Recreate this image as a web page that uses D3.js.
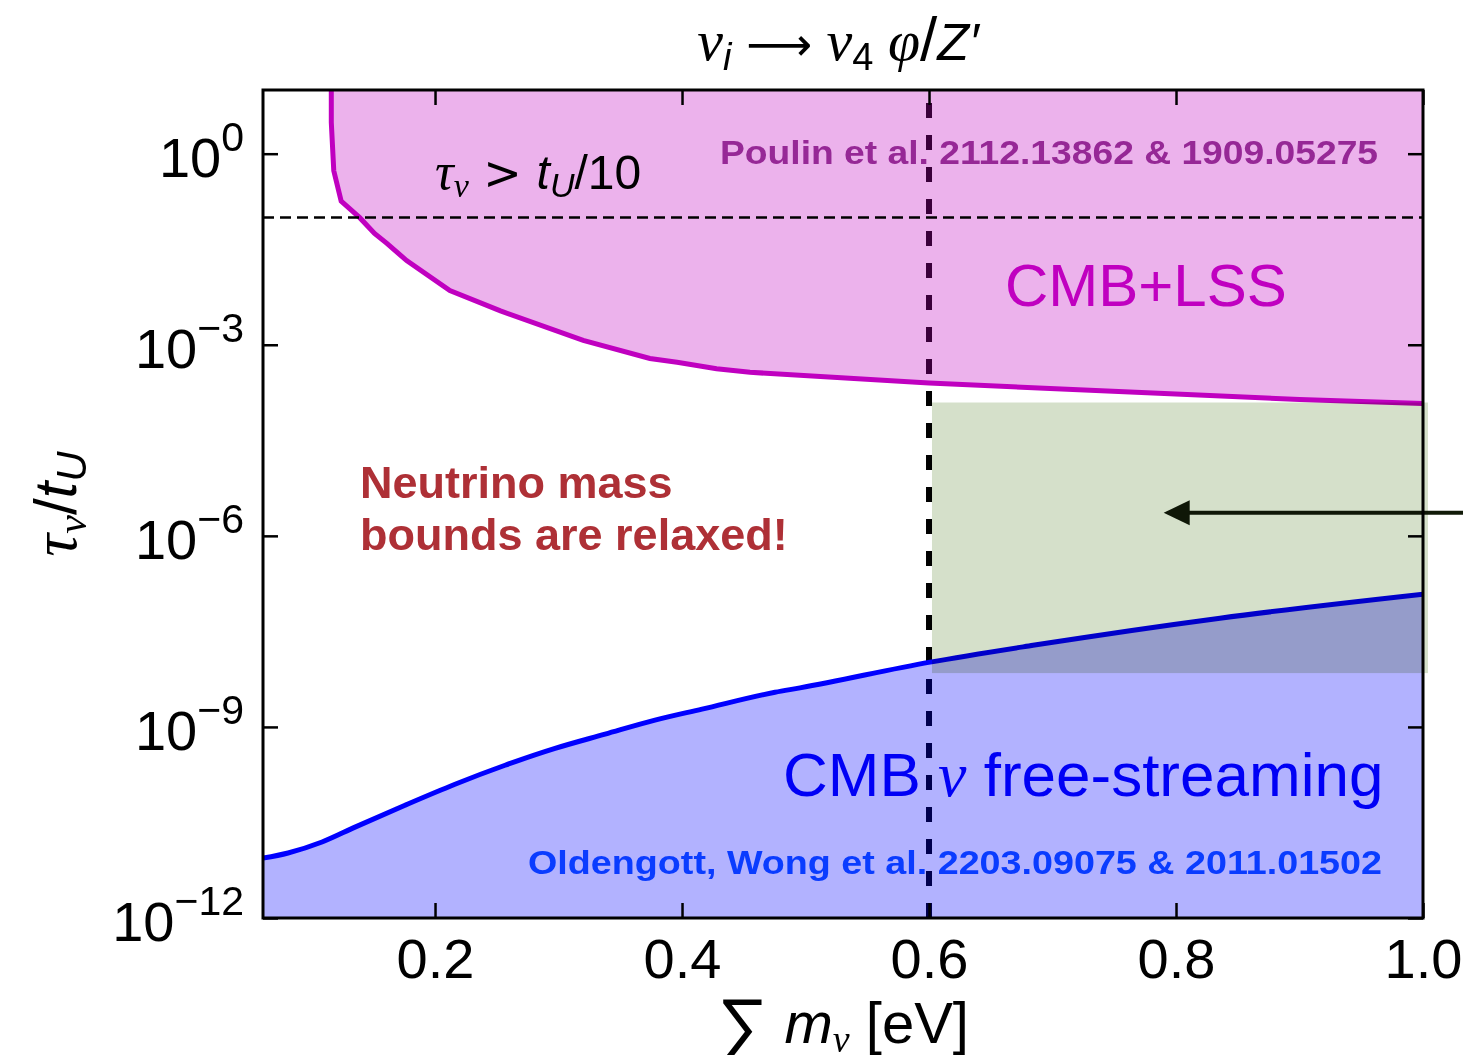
<!DOCTYPE html>
<html>
<head>
<meta charset="utf-8">
<script src="https://cdn.jsdelivr.net/npm/d3@7"></script>
<style>
body { margin: 0; background: #fff; }
text { font-family: "Liberation Sans", Arial, Helvetica, sans-serif; fill: #000; }
.gr { font-family: "Liberation Serif", "DejaVu Serif", serif; font-style: italic; }
.it { font-style: italic; }
</style>
</head>
<body>
<div id="chart"></div>
<script>
// ---- values ----
var xTicks = [0.2, 0.4, 0.6, 0.8, 1.0];
var yTickExp = [0, -3, -6, -9, -12];

// CMB+LSS bound (Poulin et al.)
var lssMass = [0.116, 0.116, 0.118, 0.124, 0.139, 0.151, 0.161, 0.177, 0.212, 0.253, 0.320, 0.374, 0.396, 0.428, 0.455, 0.600, 0.698, 0.809, 0.900, 1.000];
var lssTau  = [10, 3.1, 0.54, 0.18, 0.099, 0.056, 0.039, 0.021, 7.1e-3, 3.4e-3, 1.17e-3, 6.1e-4, 5.3e-4, 4.2e-4, 3.7e-4, 2.5e-4, 2.06e-4, 1.66e-4, 1.38e-4, 1.2e-4];

// CMB neutrino free-streaming bound (Oldengott, Wong et al.)
var fsMass = [0.0607, 0.081, 0.1085, 0.1352, 0.1757, 0.2162, 0.2567, 0.2972, 0.3377, 0.3781, 0.4162, 0.4753, 0.4955, 0.6008, 0.6842, 0.8356, 1.0];
var fsTau  = [8.7e-12, 1.05e-11, 1.56e-11, 2.67e-11, 5.9e-11, 1.26e-10, 2.5e-10, 4.6e-10, 7.7e-10, 1.28e-9, 1.9e-9, 3.5e-9, 4.1e-9, 1.04e-8, 1.91e-8, 5.1e-8, 1.21e-7];

var tauCut = 0.1;            // tau > t_U/10
var massCut = 0.6;           // vertical dashed line
var boxMass = [0.6024, 1.004];   // green "relaxed" window
var boxTau = [7.0e-9, 1.24e-4];
var arrowMass = [1.04, 0.79];
var arrowTau = 2.3e-6;

var W = 1463, H = 1055;
var mLeft = 263, mRight = 1423, mTop = 90, mBottom = 918;

var svg = d3.select("#chart").append("svg")
	.attr("width", W).attr("height", H);

var x = d3.scaleLinear().domain([0.0607, 1.0]).range([mLeft, mRight]);
var y = d3.scaleLog().domain([1e-12, 10]).range([mBottom, mTop]);

svg.append("clipPath").attr("id", "clip")
	.append("rect").attr("x", mLeft).attr("y", mTop)
	.attr("width", mRight - mLeft).attr("height", mBottom - mTop);

var plot = svg.append("g").attr("clip-path", "url(#clip)");

var lss = lssMass.map(function(m, i){ return [m, lssTau[i]]; });
var fs = fsMass.map(function(m, i){ return [m, fsTau[i]]; });

// vertical dashed line (under the fills)
plot.append("line")
	.attr("x1", x(massCut)).attr("x2", x(massCut))
	.attr("y1", y(1e-12)).attr("y2", y(10))
	.attr("stroke", "#000").attr("stroke-width", 6)
	.attr("stroke-dasharray", "15,17");

// fills
plot.append("path").datum(lss)
	.attr("d", d3.area().x(function(d){ return x(d[0]); }).y0(y(10)).y1(function(d){ return y(d[1]); }))
	.attr("fill", "#c000c0").attr("fill-opacity", 0.3);

plot.append("path").datum(fs)
	.attr("d", d3.area().curve(d3.curveMonotoneX).x(function(d){ return x(d[0]); }).y0(y(1e-12)).y1(function(d){ return y(d[1]); }))
	.attr("fill", "#0000ff").attr("fill-opacity", 0.3);

// arrow
var ax0 = x(arrowMass[0]), ax1 = x(arrowMass[1]), ay = y(arrowTau);
svg.append("line")
	.attr("x1", ax0).attr("x2", ax1 + 20).attr("y1", ay).attr("y2", ay)
	.attr("stroke", "#111a08").attr("stroke-width", 4);
svg.append("path")
	.attr("d", "M" + ax1 + "," + ay + "l26,-12.5l0,25z")
	.attr("fill", "#111a08");

// green window
svg.append("rect")
	.attr("x", x(boxMass[0])).attr("y", y(boxTau[1]))
	.attr("width", x(boxMass[1]) - x(boxMass[0]))
	.attr("height", y(boxTau[0]) - y(boxTau[1]))
	.attr("fill", "#d5e0ca")
	.style("mix-blend-mode", "multiply");

// curves
plot.append("path").datum(lss)
	.attr("d", d3.line().x(function(d){ return x(d[0]); }).y(function(d){ return y(d[1]); }))
	.attr("fill", "none").attr("stroke", "#c000c0").attr("stroke-width", 5);

plot.append("path").datum(fs)
	.attr("d", d3.line().curve(d3.curveMonotoneX).x(function(d){ return x(d[0]); }).y(function(d){ return y(d[1]); }))
	.attr("fill", "none").attr("stroke", "#0000ff").attr("stroke-width", 5);

// horizontal dashed line
plot.append("line")
	.attr("x1", x(0.0607)).attr("x2", x(1.0))
	.attr("y1", y(tauCut)).attr("y2", y(tauCut))
	.attr("stroke", "#000").attr("stroke-width", 2.5)
	.attr("stroke-dasharray", "11,6");

// axes (inward ticks on all four sides)
var yTickVals = yTickExp.map(function(e){ return Math.pow(10, e); });

var gb = svg.append("g").attr("transform", "translate(0," + mBottom + ")")
	.call(d3.axisBottom(x).tickValues(xTicks).tickSizeInner(-15).tickSizeOuter(0).tickPadding(20).tickFormat(d3.format(".1f")));
svg.append("g").attr("transform", "translate(0," + mTop + ")")
	.call(d3.axisTop(x).tickValues(xTicks).tickSizeInner(-15).tickSizeOuter(0).tickFormat(""));
svg.append("g").attr("transform", "translate(" + mLeft + ",0)")
	.call(d3.axisLeft(y).tickValues(yTickVals).tickSizeInner(-15).tickSizeOuter(0).tickFormat(""));
svg.append("g").attr("transform", "translate(" + mRight + ",0)")
	.call(d3.axisRight(y).tickValues(yTickVals).tickSizeInner(-15).tickSizeOuter(0).tickFormat(""));

svg.selectAll(".domain").remove();
svg.selectAll(".tick line").attr("stroke", "#000").attr("stroke-width", 2.5);
gb.selectAll("text")
	.attr("fill", "#000")
	.style("font-size", "56px")
	.style("font-family", "'Liberation Sans', Arial, sans-serif");

// y tick labels 10^n
yTickExp.forEach(function(e){
	var t = svg.append("text")
		.attr("x", 244).attr("y", y(Math.pow(10, e)) + 23)
		.attr("text-anchor", "end")
		.style("font-size", "56px");
	t.append("tspan").text("10");
	t.append("tspan").attr("dy", -26).style("font-size", "41px")
		.text(e === 0 ? "0" : "\u2212" + (-e));
});

// frame
svg.append("rect")
	.attr("x", mLeft).attr("y", mTop)
	.attr("width", mRight - mLeft).attr("height", mBottom - mTop)
	.attr("fill", "none").attr("stroke", "#000").attr("stroke-width", 3);

// title
var title = svg.append("text").attr("x", 838).attr("y", 60)
	.attr("text-anchor", "middle").style("font-size", "52px");
title.append("tspan").attr("class", "gr").style("font-size", "58px").text("\u03bd");
title.append("tspan").attr("class", "it").style("font-size", "38px").attr("dy", 10).text("i");
title.append("tspan").attr("dy", -10).style("font-family", "'DejaVu Sans', sans-serif").style("font-size", "46px").text(" \u27f6 ");
title.append("tspan").attr("class", "gr").style("font-size", "58px").text("\u03bd");
title.append("tspan").style("font-size", "38px").attr("dy", 10).text("4");
title.append("tspan").attr("dy", -10).attr("class", "gr").style("font-size", "58px").text("  \u03c6");
title.append("tspan").style("font-size", "62px").text("/");
title.append("tspan").attr("class", "it").text("Z\u2032");

// tau > t_U/10
var tc = svg.append("text").attr("x", x(0.2)).attr("y", y(0.28)).style("font-size", "46px");
tc.append("tspan").attr("class", "gr").style("font-size", "52px").text("\u03c4");
tc.append("tspan").attr("class", "gr").style("font-size", "34px").attr("dy", 8).text("\u03bd");
tc.append("tspan").attr("dy", -8).style("font-family", "'DejaVu Sans', sans-serif").style("font-size", "46px").text("  >  ");
tc.append("tspan").attr("class", "it").style("font-size", "48px").text("t");
tc.append("tspan").attr("class", "it").style("font-size", "34px").attr("dy", 8).text("U");
tc.append("tspan").attr("dy", -8).style("font-size", "48px").text("/10");

// region labels
svg.append("text").attr("x", x(0.4308)).attr("y", y(0.70))
	.attr("textLength", 658).attr("lengthAdjust", "spacingAndGlyphs")
	.style("font-size", "34px").style("font-weight", "bold").style("fill", "#962896")
	.text("Poulin et al. 2112.13862 & 1909.05275");

svg.append("text").attr("x", x(0.6615)).attr("y", y(4.1e-3))
	.style("font-size", "60px").style("fill", "#c000c0")
	.text("CMB+LSS");

svg.append("text").attr("x", x(0.1393)).attr("y", y(3.9e-6))
	.style("font-size", "45px").style("font-weight", "bold").style("fill", "#ae3036")
	.text("Neutrino mass");
svg.append("text").attr("x", x(0.1393)).attr("y", y(6.1e-7))
	.style("font-size", "45px").style("font-weight", "bold").style("fill", "#ae3036")
	.text("bounds are relaxed!");

var fl = svg.append("text").attr("x", x(0.4818)).attr("y", y(8.2e-11))
	.style("font-size", "62px").style("fill", "#0000f5");
fl.append("tspan").text("CMB ");
fl.append("tspan").attr("class", "gr").style("fill", "#0000f5").style("font-size", "64px").text("\u03bd");
fl.append("tspan").text(" free-streaming");

svg.append("text").attr("x", x(0.2753)).attr("y", y(4.9e-12))
	.attr("textLength", 854).attr("lengthAdjust", "spacingAndGlyphs")
	.style("font-size", "34px").style("font-weight", "bold").style("fill", "#0a3cff")
	.text("Oldengott, Wong et al. 2203.09075 & 2011.01502");

// x label
var xl = svg.append("text").attr("x", (mLeft + mRight) / 2).attr("y", 1043)
	.attr("text-anchor", "middle").style("font-size", "58px");
xl.append("tspan").style("font-size", "72px").style("font-weight", "normal").attr("dy", 6).text("\u2211");
xl.append("tspan").attr("dy", -6).attr("class", "it").text(" m");
xl.append("tspan").attr("class", "gr").style("font-size", "38px").attr("dy", 9).text("\u03bd");
xl.append("tspan").attr("dy", -9).text(" [eV]");

// y label
var yl = svg.append("text")
	.attr("transform", "translate(76," + ((mTop + mBottom) / 2) + ") rotate(-90)")
	.attr("text-anchor", "middle").style("font-size", "60px");
yl.append("tspan").attr("class", "gr").style("font-size", "64px").text("\u03c4");
yl.append("tspan").attr("class", "gr").style("font-size", "42px").attr("dy", 10).text("\u03bd");
yl.append("tspan").attr("dy", -10).text("/");
yl.append("tspan").attr("class", "it").text("t");
yl.append("tspan").attr("class", "it").style("font-size", "42px").attr("dy", 10).text("U");
</script>
</body>
</html>
